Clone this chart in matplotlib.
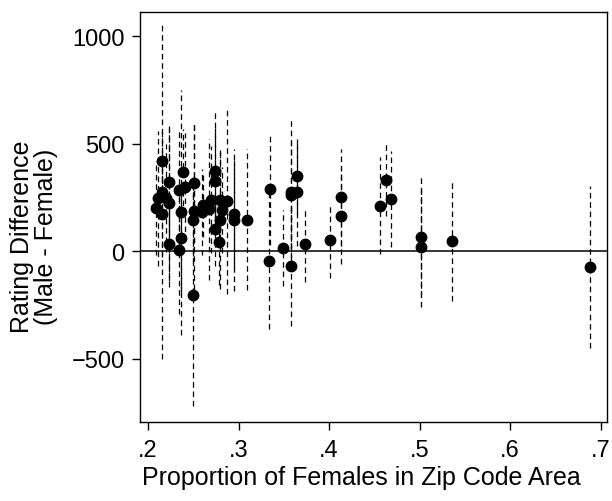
import numpy as np
import matplotlib
matplotlib.use("Agg")
import matplotlib.pyplot as plt

plt.rcParams['font.family'] = ['Liberation Sans', 'DejaVu Sans']

# proportion of females in zip code area
prop = [0.209, 0.211, 0.215, 0.215, 0.215, 0.220, 0.223, 0.223, 0.223, 0.234,
        0.236, 0.238, 0.241, 0.236, 0.234, 0.251, 0.251, 0.249, 0.250, 0.260,
        0.261, 0.267, 0.269, 0.274, 0.274, 0.274, 0.279, 0.282, 0.279, 0.278,
        0.287, 0.295, 0.295, 0.309, 0.335, 0.334, 0.349, 0.358, 0.358, 0.358,
        0.365, 0.365, 0.373, 0.401, 0.413, 0.413, 0.456, 0.463, 0.468, 0.502,
        0.502, 0.536, 0.688]

# rating difference (male - female)
diff = [200, 246, 420, 276, 172, 246, 321, 223, 33, 285,
        180, 369, 299, 62, 6, 319, 185, 146, -203, 180,
        214, 195, 239, 372, 324, 105, 239, 192, 146, 43,
        234, 172, 144, 146, 287, -46, 14, 273, 260, -68,
        347, 273, 31, 50, 250, 164, 212, 332, 242, 67,
        17, 45, -74]

# half width of the confidence interval
halfwidth = [220, 314, 150, 780, 200, 250, 250, 360, 200, 280,
             570, 200, 250, 250, 300, 280, 410, 200, 517, 200,
             150, 328, 250, 280, 250, 173, 230, 200, 323, 200,
             432, 250, 329, 328, 257, 317, 175, 349, 250, 279,
             174, 248, 176, 174, 224, 224, 224, 170, 225, 276,
             279, 275, 378]

x = np.array(prop)
y = np.array(diff)
hw = np.array(halfwidth)

fig = plt.figure(figsize=(6.12, 5.02), dpi=100)
ax = fig.add_axes([0.2288, 0.1574, 0.763, 0.8166])

ax.vlines(x, y - hw, y + hw, colors='black', linewidth=0.9,
          linestyles=(0, (4.5, 3)))
ax.axhline(0, color='black', lw=1.1)
ax.plot(x, y, 'o', color='black', ms=7.5, zorder=3)

ax.set_xlim(0.191, 0.707)
ax.set_ylim(-795, 1112)
ax.set_xticks([0.2, 0.3, 0.4, 0.5, 0.6, 0.7])
ax.set_xticklabels(['.2', '.3', '.4', '.5', '.6', '.7'])
ax.set_yticks([-500, 0, 500, 1000])
ax.set_yticklabels(['\u2212500', '0', '500', '1000'])
ax.tick_params(direction='out', length=6, width=1, labelsize=17, pad=6)
ax.tick_params(axis='y', pad=5)
for s in ax.spines.values():
    s.set_linewidth(1.0)

ax.set_xlabel('Proportion of Females in Zip Code Area', fontsize=18)
ax.xaxis.set_label_coords(0.475, -0.105)
ax.xaxis.label.set_va('top')
ax.set_ylabel('Rating Difference\n(Male - Female)', fontsize=18,
              linespacing=1.0)
ax.yaxis.set_label_coords(-0.175, 0.455)

fig.savefig('out.png', dpi=100)
